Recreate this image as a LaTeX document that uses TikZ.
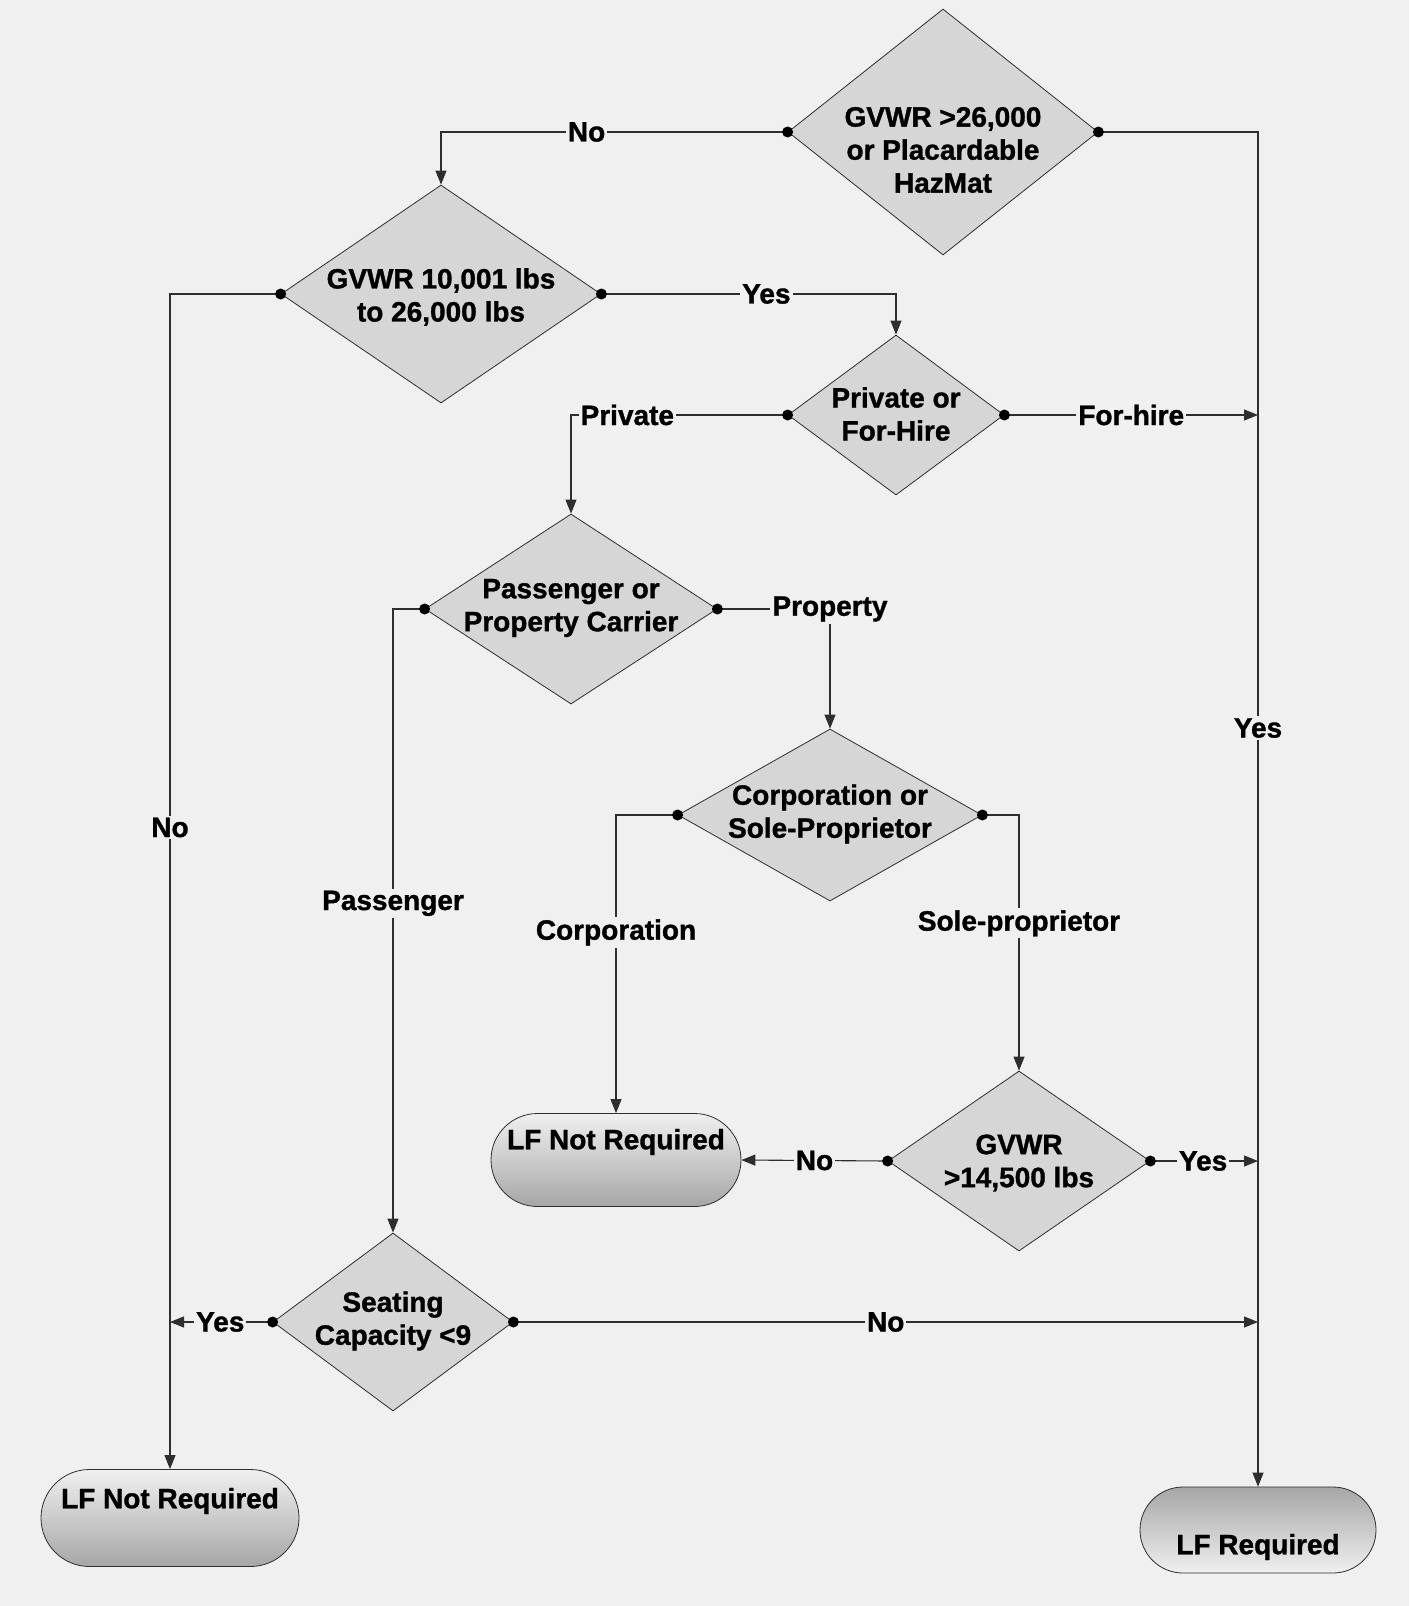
\documentclass[tikz,border=0pt]{standalone}
\usepackage{fontspec}
\setmainfont{Liberation Sans}[BoldFeatures={FakeBold=1.2}]
\usetikzlibrary{shapes.geometric,shapes.misc,arrows.meta}
\definecolor{bg}{HTML}{F0F0F0}
\definecolor{dfill}{HTML}{D6D6D6}
\definecolor{lcol}{HTML}{2E2E2E}
\definecolor{tdark}{HTML}{A6A6A6}
\definecolor{tlight}{HTML}{F0F0F0}
\begin{document}
\begin{tikzpicture}[x=1pt,y=-1pt,
  dec/.style={diamond, draw=lcol, fill=dfill, line width=0.8pt, inner sep=0pt},
  termdown/.style={rounded rectangle, draw=lcol, line width=0.8pt, inner sep=0pt, top color=tlight, bottom color=tdark},
  termup/.style={rounded rectangle, draw=lcol, line width=0.8pt, inner sep=0pt, top color=tdark, bottom color=tlight},
  txt/.style={font=\bfseries\fontsize{28}{33}\selectfont, align=center, inner sep=0pt, text=black},
  lab/.style={font=\bfseries\fontsize{28}{32}\selectfont, fill=bg, inner sep=2pt, text=black},
  conn/.style={draw=lcol, line width=1.1pt},
  arr/.style={conn, -{Triangle[length=14pt,width=11pt]}},
]
\fill[bg] (0,0) rectangle (1409,1606);
\useasboundingbox (0,0) rectangle (1409,1606);

% decision nodes
\node[dec, minimum width=310pt, minimum height=246pt] (d1) at (943,132) {};
\node[dec, minimum width=320pt, minimum height=218pt] (d2) at (441,294) {};
\node[dec, minimum width=216pt, minimum height=160pt] (d3) at (896,415) {};
\node[dec, minimum width=292pt, minimum height=190pt] (d4) at (571,609) {};
\node[dec, minimum width=304pt, minimum height=172pt] (d5) at (830,815) {};
\node[dec, minimum width=262pt, minimum height=180pt] (d6) at (1019,1161) {};
\node[dec, minimum width=240pt, minimum height=178pt] (d7) at (393,1322) {};

\node[txt] (t1) at (943,150) {GVWR >26,000\\or Placardable\\HazMat};
\node[txt] (t2) at (441,297) {GVWR 10,001 lbs\\to 26,000 lbs};
\node[txt] (t3) at (896,414) {Private or\\For-Hire};
\node[txt] (t4) at (571,608) {Passenger or\\Property Carrier};
\node[txt] (t5) at (830,814) {Corporation or\\Sole-Proprietor};
\node[txt] (t6) at (1019,1163) {GVWR\\>14,500 lbs};
\node[txt] (t7) at (393,1321) {Seating\\Capacity <9};

% terminals
\node[termdown, minimum width=258pt, minimum height=97pt] (lfn1) at (170,1518) {};
\node[termdown, minimum width=250pt, minimum height=93pt] (lfn2) at (616,1160) {};
\node[termup, minimum width=236pt, minimum height=86pt] (lfr) at (1258,1530) {};
\node[txt] (tn1) at (170,1501) {LF Not Required};
\node[txt] (tn2) at (616,1142) {LF Not Required};
\node[txt] (tr) at (1258,1547) {LF Required};

% junction coordinates on the right bus and left bus
\coordinate (bus3) at (1258,415);
\coordinate (bus6) at (1258,1161);
\coordinate (bus7) at (1258,1322);
\coordinate (left7) at (170,1322);

% connectors
\draw[arr] (d1.west) -| node[lab,pos=0.29] {No} (d2.north);
\draw[arr] (d1.east) -| node[lab,pos=0.72] {Yes} (lfr.north);
\draw[arr] (d2.east) -| node[lab,pos=0.28] {Yes} (d3.north);
\draw[arr] (d2.west) -| node[lab,pos=0.727] {No} (lfn1.north);
\draw[arr] (d3.west) -| node[lab,pos=0.37] {Private} (d4.north);
\draw[arr] (d3.east) -- node[lab,pos=0.5] {For-hire} (bus3);
\draw[arr] (d4.east) -| node[lab,pos=0.5] {Property} (d5.north);
\draw[arr] (d4.west) -| node[lab,pos=0.736] {Passenger} (d7.north);
\draw[arr] (d5.west) -| node[lab,pos=0.697] {Corporation} (lfn2.north);
\draw[arr] (d5.east) -| node[lab,pos=0.712] {Sole-proprietor} (d6.north);
\draw[arr] (d6.west) -- node[lab,pos=0.5] {No} (lfn2.east);
\draw[arr] (d6.east) -- node[lab,pos=0.49] {Yes} (bus6);
\draw[arr] (d7.west) -- node[lab,pos=0.51] {Yes} (left7);
\draw[arr] (d7.east) -- node[lab,pos=0.5] {No} (bus7);

% connection dots
\foreach \p in {d1.west,d1.east,d2.west,d2.east,d3.west,d3.east,d4.west,d4.east,d5.west,d5.east,d6.west,d6.east,d7.west,d7.east}
  \fill[black] (\p) circle (5.5pt);
\end{tikzpicture}
\end{document}
